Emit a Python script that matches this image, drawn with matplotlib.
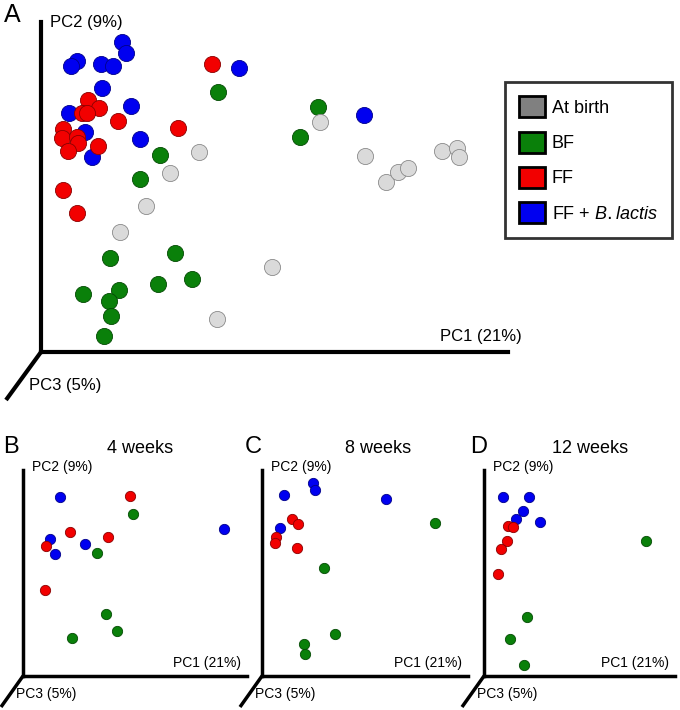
import matplotlib.pyplot as plt
from matplotlib.patches import Patch

plt.rcParams['font.family'] = ['Liberation Sans', 'DejaVu Sans']
plt.rcParams['mathtext.fontset'] = 'custom'
plt.rcParams['mathtext.it'] = 'Liberation Sans:italic'

W, H = 680, 710

# PCoA scores (panel units, origin at the axis corner)
# panel A - all samples
a_birth_x = [158, 129, 105, 79, 231, 176, 279, 324, 345, 357, 367, 401, 416, 418]
a_birth_y = [200, 179, 146, 120, 85, 33, 230, 196, 170, 180, 184, 201, 204, 195]
a_bf_x = [177, 277, 259, 119, 99, 69, 134, 42, 78, 117, 151, 68, 70, 63]
a_bf_y = [260, 245, 215, 197, 173, 94, 99, 58, 62, 68, 73, 51, 36, 16]
a_ff_x = [171, 47, 58, 41, 46, 77, 137, 22, 21, 36, 37, 57, 27, 22, 36]
a_ff_y = [288, 252, 244, 239, 239, 231, 224, 223, 214, 215, 209, 206, 201, 162, 139]
a_ffb_x = [81, 85, 36, 30, 60, 72, 198, 61, 28, 90, 44, 99, 51, 323]
a_ffb_y = [310, 299, 291, 286, 288, 286, 284, 264, 239, 246, 220, 213, 195, 237]

# panel B - 4 weeks
b_bf_x = [110, 74, 83, 94, 49]
b_bf_y = [162, 123, 62, 45, 38]
b_ff_x = [107, 47, 23, 85, 22]
b_ff_y = [180, 144, 130, 139, 86]
b_ffb_x = [37, 27, 32, 62, 201]
b_ffb_y = [179, 137, 122, 132, 147]

# panel C - 8 weeks
c_bf_x = [173, 62, 73, 42, 43]
c_bf_y = [153, 108, 42, 32, 22]
c_ff_x = [30, 36, 14, 13, 35]
c_ff_y = [157, 152, 139, 133, 128]
c_ffb_x = [51, 53, 22, 124, 18]
c_ffb_y = [193, 186, 181, 177, 148]

# panel D - 12 weeks
d_bf_x = [162, 43, 26, 40]
d_bf_y = [135, 59, 37, 11]
d_ff_x = [24, 29, 23, 17, 14]
d_ff_y = [150, 149, 135, 127, 102]
d_ffb_x = [19, 45, 39, 32, 56]
d_ffb_y = [179, 179, 165, 157, 154]

groups = ['At birth', 'BF', 'FF', 'FF + $\\it{B. lactis}$']
face = {'birth': '#dadada', 'bf': '#0a800a', 'ff': '#f20000', 'ffb': '#0000f0'}
edge = {'birth': '#8a8a8a', 'bf': '#044a04', 'ff': '#8a0000', 'ffb': '#00008a'}
legend_cols = ['#808080', '#0a800a', '#f20000', '#0000f0']


def fx(x):
    return x / W


def fy(y):
    return 1 - y / H


def panel(ox, oy, xr, yt, lw, diag):
    ax = fig.add_axes([fx(ox), fy(oy), (xr - ox) / W, (oy - yt) / H])
    ax.set_xlim(0, xr - ox)
    ax.set_ylim(0, oy - yt)
    for s in ['top', 'right']:
        ax.spines[s].set_visible(False)
    for s in ['left', 'bottom']:
        ax.spines[s].set_linewidth(lw)
        ax.spines[s].set_color('black')
    ax.set_xticks([])
    ax.set_yticks([])
    ax.patch.set_alpha(0)
    ax.plot([0, diag[0]], [0, diag[1]], color='black', lw=lw,
            clip_on=False, solid_capstyle='butt')
    return ax


def dots(ax, x, y, key, s):
    ax.scatter(x, y, s=s, c=face[key], edgecolors=edge[key], linewidths=0.6,
               zorder=3, clip_on=False)


fig = plt.figure(figsize=(6.8, 7.1), dpi=100)

# ---- panel A
axA = panel(41, 352, 508, 22, 3.0, (-35, -48))
dots(axA, a_bf_x, a_bf_y, 'bf', 135)
dots(axA, a_birth_x, a_birth_y, 'birth', 135)
dots(axA, a_ffb_x, a_ffb_y, 'ffb', 135)
dots(axA, a_ff_x, a_ff_y, 'ff', 135)

fig.text(fx(4), fy(15), 'A', fontsize=18, va='center')
fig.text(fx(50), fy(23), 'PC2 (9%)', fontsize=12, va='center')
fig.text(fx(440), fy(337), 'PC1 (21%)', fontsize=12, va='center')
fig.text(fx(29), fy(385), 'PC3 (5%)', fontsize=12, va='center')

handles = [Patch(facecolor=c, edgecolor='black', linewidth=2) for c in legend_cols]
leg = fig.legend(handles, groups, loc='upper left',
                 bbox_to_anchor=(fx(505), fy(82)), bbox_transform=fig.transFigure,
                 fontsize=13, handlelength=1.4, handleheight=1.4,
                 labelspacing=0.8, borderpad=0.8, handletextpad=0.4,
                 fancybox=False, borderaxespad=0)
leg.get_frame().set_edgecolor('black')
leg.get_frame().set_linewidth(2)

# ---- panels B, C, D
small = [
    ('B', '4 weeks', 3, 107, (23, 676, 247, 470),
     (b_bf_x, b_bf_y), (b_ff_x, b_ff_y), (b_ffb_x, b_ffb_y)),
    ('C', '8 weeks', 245, 345, (262, 676, 468, 470),
     (c_bf_x, c_bf_y), (c_ff_x, c_ff_y), (c_ffb_x, c_ffb_y)),
    ('D', '12 weeks', 470, 552, (484, 676, 675, 470),
     (d_bf_x, d_bf_y), (d_ff_x, d_ff_y), (d_ffb_x, d_ffb_y)),
]

for letter, title, lx, tx, (ox, oy, xr, yt), bf, ff, ffb in small:
    ax = panel(ox, oy, xr, yt, 2.5, (-22, -31))
    dots(ax, bf[0], bf[1], 'bf', 55)
    dots(ax, ffb[0], ffb[1], 'ffb', 55)
    dots(ax, ff[0], ff[1], 'ff', 55)
    fig.text(fx(lx), fy(447), letter, fontsize=17, va='center')
    fig.text(fx(tx), fy(448), title, fontsize=13, va='center')
    fig.text(fx(ox + 9), fy(467), 'PC2 (9%)', fontsize=10, va='center')
    fig.text(fx(xr - 74), fy(663), 'PC1 (21%)', fontsize=10, va='center')
    fig.text(fx(ox - 7), fy(694), 'PC3 (5%)', fontsize=10, va='center')

fig.savefig('out.png', dpi=100)
